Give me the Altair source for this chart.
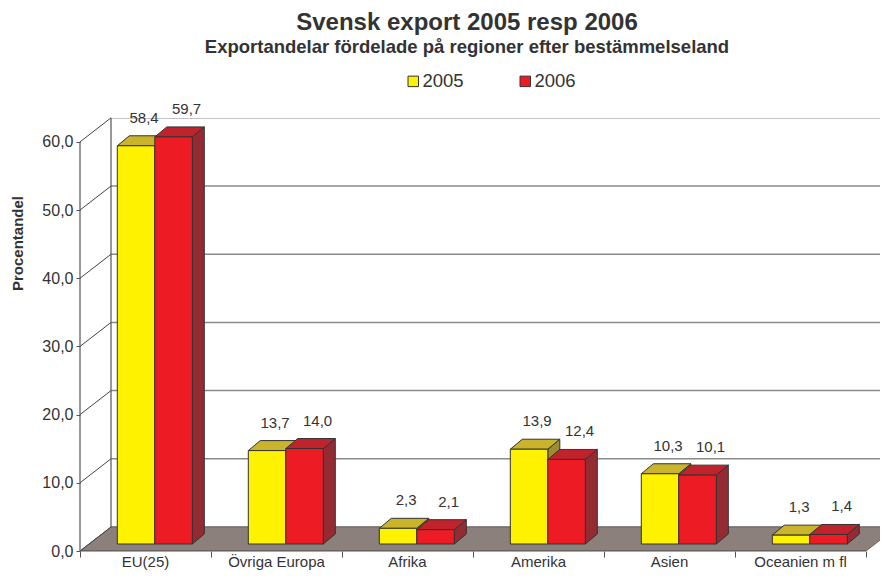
import altair as alt
import pandas as pd

# ---- data ----
categories = ["EU(25)", "Övriga Europa", "Afrika", "Amerika", "Asien", "Oceanien m fl"]
values_2005 = [58.4, 13.7, 2.3, 13.9, 10.3, 1.3]
values_2006 = [59.7, 14.0, 2.1, 12.4, 10.1, 1.4]
series = ["2005", "2006"]
front_colors = ["#fff200", "#ed1c24"]
top_colors = ["#c9b42c", "#c0232b"]
side_colors = ["#9d8d2e", "#952b32"]
y_ticks = [0, 10, 20, 30, 40, 50, 60]

# ---- geometry (pixel sizes converted to data units) ----
W, H = 800, 433
XPX = 131.0
Y_MAX = 63.5
YPX = H / Y_MAX
X_MAX = W / XPX


def xu(px):
    return px / XPX


def yu(px):
    return px / YPX


WALL_DX, WALL_DY = xu(31), yu(24)
BAR_X0 = xu(37.3)
BAR_W = xu(37.5)
BAR_DX, BAR_DY = xu(12), yu(10)
BAR_Z = yu(7)
LABEL_DX = [xu(8), xu(13)]
LABEL_DY = yu(28)
NCAT = len(categories)

FONT = "Liberation Sans"
TXT = "#333333"

xs = alt.Scale(domain=[0, X_MAX], nice=False, zero=False)
ys = alt.Scale(domain=[0, Y_MAX], nice=False, zero=False)
X_AXIS = alt.Axis(values=list(range(NCAT + 1)), labels=False, domain=False, grid=False,
                  tickSize=6, tickColor="#555555", title=None)
Y_AXIS = alt.Axis(values=y_ticks, domain=False, grid=False, tickSize=4, tickColor="#555555",
                  labelExpr="replace(format(datum.value, '.1f'), '.', ',')",
                  labelFontSize=16, labelColor=TXT, labelFont=FONT, labelPadding=3,
                  title="Procentandel", titleFont=FONT, titleFontSize=15,
                  titleFontWeight="bold", titleColor=TXT, titleAngle=-90,
                  titleX=-63, titleY=125, titleAlign="center", titleBaseline="middle")


def X(field):
    return alt.X(field, type="quantitative", scale=xs, axis=X_AXIS)


def Y(field):
    return alt.Y(field, type="quantitative", scale=ys, axis=Y_AXIS)


# ---- build tables ----
front, tops, sides, labels = [], [], [], []
for i, cat in enumerate(categories):
    for s, vals in enumerate([values_2005, values_2006]):
        v = vals[i]
        x0 = i + BAR_X0 + s * BAR_W
        x1 = x0 + BAR_W
        fid = f"{i}-{s}"
        front.append(dict(series=series[s], x0=x0, x1=x1, y0=BAR_Z, y1=v + BAR_Z))
        tops.append(dict(id=fid, fill=top_colors[s], y=v + BAR_Z, xl=x0, xr=x1))
        tops.append(dict(id=fid, fill=top_colors[s], y=v + BAR_Z + BAR_DY,
                         xl=x0 + BAR_DX, xr=x1 + BAR_DX))
        sides.append(dict(id=fid, fill=side_colors[s], x=x1, ylo=BAR_Z, yhi=v + BAR_Z))
        sides.append(dict(id=fid, fill=side_colors[s], x=x1 + BAR_DX,
                          ylo=BAR_Z + BAR_DY, yhi=v + BAR_Z + BAR_DY))
        labels.append(dict(x=x0 + BAR_W / 2 + LABEL_DX[s], y=v + BAR_Z + LABEL_DY,
                           text=f"{v:.1f}".replace(".", ",")))

df_front = pd.DataFrame(front)
df_tops = pd.DataFrame(tops)
df_sides = pd.DataFrame(sides)
df_labels = pd.DataFrame(labels)
df_floor = pd.DataFrame([
    dict(y=0.0, xl=0.0, xr=float(NCAT)),
    dict(y=WALL_DY, xl=WALL_DX, xr=NCAT + WALL_DX),
])
df_ticks = pd.DataFrame(dict(v=y_ticks))
df_ticks["vb"] = df_ticks["v"] + WALL_DY
df_ticks["x0"] = 0.0
df_ticks["xw"] = WALL_DX
df_ticks["xe"] = X_MAX
df_cats = pd.DataFrame(dict(x=[i + 0.5 for i in range(NCAT)], y=[0.0] * NCAT, text=categories))
df_axes = pd.DataFrame([
    dict(x=0.0, x2=0.0, y=0.0, y2=60.0),                      # front vertical axis
    dict(x=WALL_DX, x2=WALL_DX, y=WALL_DY, y2=60 + WALL_DY),  # back wall left edge
])
df_base = pd.DataFrame(dict(x=[0.0], x2=[float(NCAT)], y=[0.0]))

floor = alt.Chart(df_floor).mark_area(orient="horizontal", color="#8c807c", stroke="#6e6460",
                                      strokeWidth=1, clip=True).encode(
    y=Y("y"), x=X("xl"), x2="xr:Q",
)
wall_grid = alt.Chart(df_ticks).mark_rule(color="#8a8a8a", strokeWidth=1.5, clip=True).encode(
    x=X("xw"), x2="xe:Q", y=Y("vb"),
)
diag = alt.Chart(df_ticks).mark_rule(color="#444444", strokeWidth=1).encode(
    x=X("x0"), x2="xw:Q", y=Y("v"), y2="vb:Q",
)
axes_lines = alt.Chart(df_axes).mark_rule(color="#555555", strokeWidth=1.2).encode(
    x=X("x"), x2="x2:Q", y=Y("y"), y2="y2:Q",
)
base_line = alt.Chart(df_base).mark_rule(color="#555555", strokeWidth=1.2).encode(
    x=X("x"), x2="x2:Q", y=Y("y"),
)
side_faces = alt.Chart(df_sides).mark_area(orient="vertical", stroke="#333333", strokeWidth=1).encode(
    x=X("x"), y=Y("ylo"), y2="yhi:Q",
    fill=alt.Fill("fill:N", scale=None),
    detail="id:N",
)
top_faces = alt.Chart(df_tops).mark_area(orient="horizontal", stroke="#333333", strokeWidth=1).encode(
    y=Y("y"), x=X("xl"), x2="xr:Q",
    fill=alt.Fill("fill:N", scale=None),
    detail="id:N",
)
front_faces = alt.Chart(df_front).mark_rect(stroke="#333333", strokeWidth=1).encode(
    x=X("x0"), x2="x1:Q", y=Y("y0"), y2="y1:Q",
    fill=alt.Fill("series:N", scale=alt.Scale(domain=series, range=front_colors),
                  legend=alt.Legend(title=None, orient="none", direction="horizontal", columns=2,
                                    legendX=324, legendY=-46, symbolType="square", symbolSize=110,
                                    symbolStrokeColor="#555555", symbolStrokeWidth=1,
                                    labelFontSize=18.5, labelFont=FONT, labelColor=TXT,
                                    labelOffset=0, columnPadding=52, padding=0)),
)
value_labels = alt.Chart(df_labels).mark_text(fontSize=15, font=FONT, color=TXT, baseline="middle").encode(
    x=X("x"), y=Y("y"), text="text:N",
)
cat_labels = alt.Chart(df_cats).mark_text(fontSize=15, font=FONT, color=TXT, baseline="middle", dy=11).encode(
    x=X("x"), y=Y("y"), text="text:N",
)

chart = alt.layer(
    wall_grid, floor, diag, axes_lines, base_line,
    side_faces, top_faces, front_faces, value_labels, cat_labels,
).properties(
    width=W, height=H,
    title=alt.TitleParams(
        text="Svensk export 2005 resp 2006",
        subtitle="Exportandelar fördelade på regioner efter bestämmelseland",
        font=FONT, fontSize=24, fontWeight="bold", color=TXT,
        subtitleFont=FONT, subtitleFontSize=18.5, subtitleFontWeight="bold", subtitleColor=TXT,
        anchor="middle", offset=16, subtitlePadding=3, dx=-13,
    ),
    padding={"left": 72, "top": 110, "right": 0, "bottom": 19},
    autosize=alt.AutoSizeParams(type="none"),
).configure_view(stroke=None)

chart.save("out.html", embed_options={"renderer": "svg", "actions": False})
